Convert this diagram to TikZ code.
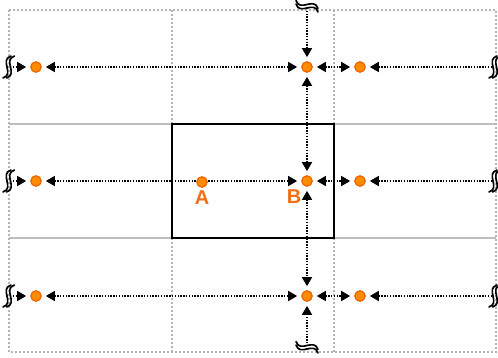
\documentclass[tikz,border=0pt]{standalone}
\usepackage{fontspec}
\setsansfont{Liberation Sans}
\usetikzlibrary{arrows.meta}
\definecolor{gridgray}{RGB}{180,180,180}
\definecolor{rulegray}{RGB}{190,190,190}
\definecolor{ptfill}{RGB}{255,140,0}
\definecolor{ptline}{RGB}{235,100,0}
\definecolor{lbl}{RGB}{240,110,20}
\tikzset{
  gridline/.style={draw=gridgray, line width=2.6pt, dash pattern=on 2pt off 2pt},
  ruleline/.style={draw=rulegray, line width=2.4pt},
  pt/.style={circle, minimum size=10.5pt, inner sep=0pt, fill=ptfill, draw=ptline, line width=1.2pt},
  lab/.style={text=lbl, font=\sffamily\bfseries\fontsize{20}{20}\selectfont, inner sep=0pt},
  tip/.tip={Triangle[length=9pt,width=10pt]},
  conn/.style={draw=black, line width=1.7pt, dash pattern=on 1.4pt off 1.4pt, shorten >=4pt},
  both/.style={conn, tip-tip, shorten <=4pt},
  one/.style={conn, -tip},
  pics/brk/.style={code={
    \draw[line width=1.7pt, line cap=round] (4,-11) .. controls (-8,-7) and (8,7) .. (-4,11);
    \draw[line width=1.7pt, line cap=round] (7.5,-11) .. controls (-4.5,-7) and (11.5,7) .. (-0.5,11);
  }}
}
\begin{document}
\begin{tikzpicture}[x=1pt, y=-1pt]
\useasboundingbox (0,0) rectangle (498,357);
% background grid
\draw[ruleline] (9,124) -- (496,124);
\draw[ruleline] (9,238) -- (496,238);
\draw[gridline] (9,10) rectangle (496,352);
\draw[gridline] (172,10) -- (172,352);
\draw[gridline] (334,10) -- (334,352);
% central cell
\draw[line width=2.6pt] (172,124) rectangle (334,238);

% points
\node[pt] (p11) at (36,67) {};
\node[pt] (p12) at (307,67) {};
\node[pt] (p13) at (360,67) {};
\node[pt] (p21) at (36,181) {};
\node[pt] (B)   at (307,181) {};
\node[pt] (p23) at (360,181) {};
\node[pt] (p31) at (36,296) {};
\node[pt] (p32) at (307,296) {};
\node[pt] (p33) at (360,296) {};

% break marks at the edges
\coordinate (l1) at (10,67);
\coordinate (l2) at (10,181);
\coordinate (l3) at (10,296);
\coordinate (r1) at (492,67);
\coordinate (r2) at (492,181);
\coordinate (r3) at (492,296);
\coordinate (t)  at (307,8);
\coordinate (b)  at (307,349);
\foreach \c in {l1,l2,l3} \pic at ([xshift=-3pt]\c) {brk};
\foreach \c in {r1,r2,r3} \pic at ([xshift=1pt]\c) {brk};
\pic[rotate=90] at (t) {brk};
\pic[rotate=90] at (b) {brk};

% connectors
\draw[one] (l1) -- (p11);
\draw[one] (l2) -- (p21);
\draw[one] (l3) -- (p31);
\draw[one] (r1) -- (p13);
\draw[one] (r2) -- (p23);
\draw[one] (r3) -- (p33);
\draw[one] (t) -- (p12);
\draw[one] (b) -- (p32);
\draw[both] (p11) -- (p12);
\draw[both] (p12) -- (p13);
\draw[both] (p21) -- (B);
\draw[both] (B) -- (p23);
\draw[both] (p31) -- (p32);
\draw[both] (p32) -- (p33);
\draw[both] (p12) -- (B);
\draw[both] (B) -- (p32);

% point A sits on the middle row
\node[pt] (A) at (202,182) {};
\node[lab] (la) at (202,198) {A};
\node[lab] (lb) at (294,197) {B};
\end{tikzpicture}
\end{document}
